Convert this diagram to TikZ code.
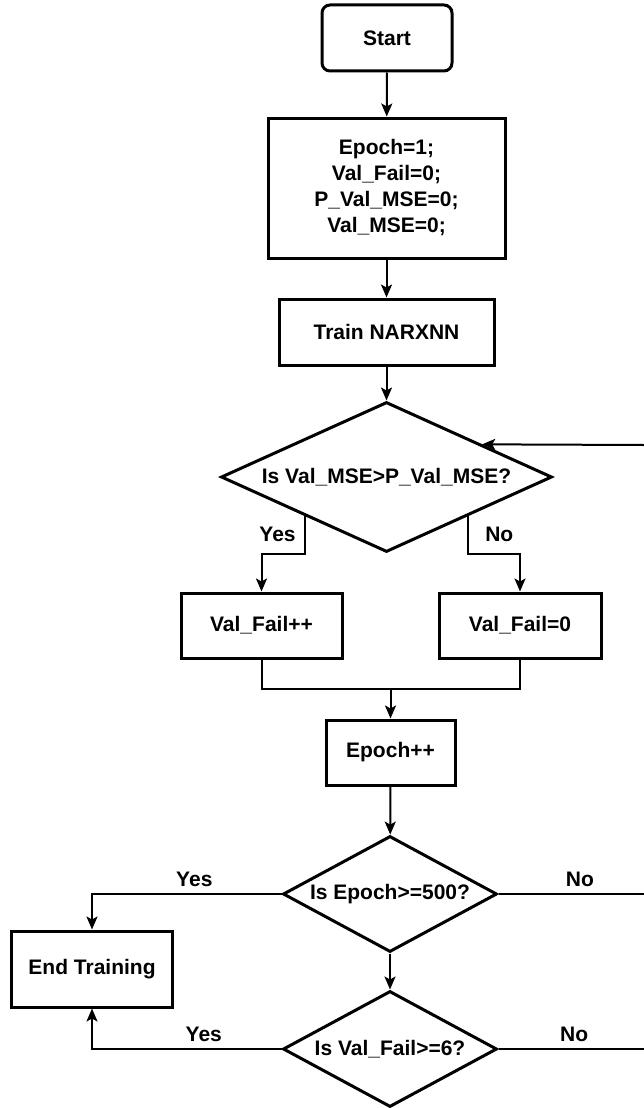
\documentclass[tikz,border=0pt]{standalone}
\usepackage{fontspec}
\setmainfont{Liberation Sans}
\usetikzlibrary{arrows.meta,shapes.geometric,calc}

\begin{document}
\begin{tikzpicture}[x=1pt, y=-1pt,
	every node/.style={font=\fontsize{21}{26}\selectfont\bfseries, align=center},
	>={Stealth[length=13pt, width=11pt, inset=3pt]},
	proc/.style={draw, line width=3pt, rectangle, inner sep=0pt},
	decide/.style={draw, line width=3pt, diamond, inner sep=0pt},
	link/.style={line width=2pt},
	tag/.style={inner sep=2pt}]
	\useasboundingbox (0,0) rectangle (644,1108);
	% main column
	\node[proc, rounded corners=8pt, minimum width=130, minimum height=66] (start) at (387,38) {Start};
	\node[proc, minimum width=237, minimum height=140] (init) at (386.5,188) {Epoch=1;\\Val\_Fail=0;\\P\_Val\_MSE=0;\\Val\_MSE=0;};
	\node[proc, minimum width=215, minimum height=66] (train) at (386.5,332) {Train NARXNN};
	\node[decide, aspect=2.2, minimum width=331, minimum height=150] (check) at (386.5,477) {Is Val\_MSE>P\_Val\_MSE?};
	\node[proc, minimum width=161, minimum height=65] (fail) at (261.5,625.5) {Val\_Fail++};
	\node[proc, minimum width=162, minimum height=65] (reset) at (520,625.5) {Val\_Fail=0};
	\node[proc, minimum width=129, minimum height=65] (epoch) at (390.5,752.5) {Epoch++};
	\node[decide, aspect=1.84, minimum width=214, minimum height=116] (maxep) at (390,894) {Is Epoch>=500?};
	\node[decide, aspect=1.84, minimum width=214, minimum height=116] (maxfail) at (390,1049) {Is Val\_Fail>=6?};
	\node[proc, minimum width=161, minimum height=76] (stop) at (92,969) {End Training};
	% helper points
	\coordinate (yesOut) at ($(check.south)!0.49!(check.west)$);
	\coordinate (noOut) at ($(check.south)!0.49!(check.east)$);
	\coordinate (join) at (390.5,689);
	\coordinate (back) at (644,445);
	\coordinate (epNo) at (644,894);
	\coordinate (vfNo) at (644,1049);
	% connectors
	\draw[link,->] (start) -- (init);
	\draw[link,->] (init) -- (train);
	\draw[link,->] (train) -- (check);
	\draw[link,->] (yesOut) -- node[tag, left=6pt] {Yes} (yesOut |- check.south) -| (fail);
	\draw[link,->] (noOut) -- node[tag, right=14pt] {No} (noOut |- check.south) -| (reset);
	\draw[link] (fail) |- (join);
	\draw[link] (reset) |- (join);
	\draw[link,->] (join) -- (epoch);
	\draw[link,->] (epoch) -- (maxep);
	\draw[link,->] (maxep.west) -| node[tag, pos=0.23, above=4pt] {Yes} (stop);
	\draw[link] (maxep.east) -- node[tag, pos=0.56, above=4pt] {No} (epNo);
	\draw[link,->] (maxep) -- (maxfail);
	\draw[link,->] (maxfail.west) -| node[tag, pos=0.205, above=4pt] {Yes} (stop);
	\draw[link] (maxfail.east) -- node[tag, pos=0.52, above=4pt] {No} (vfNo);
	\draw[link,->] (back) -- ($(check.north)!0.573!(check.east)$);
\end{tikzpicture}
\end{document}
